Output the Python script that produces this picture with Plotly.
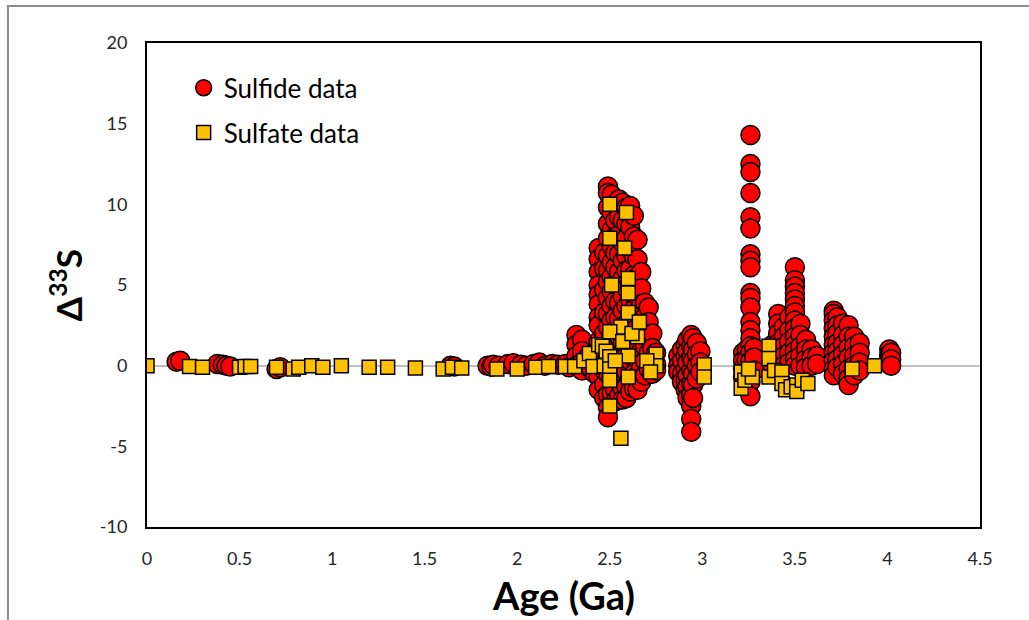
import plotly.graph_objects as go

# ---------------- data ----------------
sulfide_age = [
    0.16, 0.18, 0.38, 0.41, 0.43, 0.45, 0.70, 0.72,
    1.64, 1.66, 1.84, 1.86, 1.87, 1.90, 1.95, 1.98, 2.02, 2.05, 2.09, 2.12, 2.15, 2.19, 2.22, 2.26, 2.28,
    2.32, 2.32, 2.32, 2.32, 2.35, 2.35, 2.35, 2.35, 2.38, 2.38, 2.40, 2.40, 2.42, 2.42, 2.42,
    2.44, 2.44, 2.44, 2.44, 2.44, 2.44, 2.44, 2.44, 2.44, 2.44, 2.44, 2.44, 2.44,
    2.47, 2.47, 2.47, 2.47, 2.47, 2.47, 2.47, 2.47, 2.47,
    2.49, 2.49, 2.49, 2.49, 2.49, 2.49, 2.49, 2.49, 2.49, 2.49, 2.49, 2.49, 2.49, 2.49, 2.49, 2.49, 2.49,
    2.51, 2.51, 2.51, 2.51, 2.51, 2.51, 2.51, 2.51, 2.51, 2.51, 2.51, 2.51, 2.51, 2.51,
    2.53, 2.53, 2.53, 2.53, 2.53, 2.53, 2.53, 2.53, 2.53, 2.53, 2.53, 2.53, 2.53, 2.53,
    2.55, 2.55, 2.55, 2.55, 2.55, 2.55, 2.55, 2.55, 2.55, 2.55, 2.55, 2.55, 2.55,
    2.57, 2.57, 2.57, 2.57, 2.57, 2.57, 2.57, 2.57, 2.57, 2.57, 2.57, 2.57, 2.57,
    2.59, 2.59, 2.59, 2.59, 2.59, 2.59, 2.59, 2.59, 2.59, 2.59, 2.59, 2.59, 2.59,
    2.61, 2.61, 2.61, 2.61, 2.61, 2.61, 2.61, 2.61, 2.61, 2.61, 2.61, 2.61,
    2.63, 2.63, 2.63, 2.63, 2.63, 2.63, 2.63, 2.63, 2.63, 2.63, 2.63,
    2.65, 2.65, 2.65, 2.65, 2.65, 2.65, 2.65, 2.65, 2.65, 2.65,
    2.67, 2.67, 2.67, 2.67, 2.67, 2.67, 2.67, 2.67,
    2.69, 2.69, 2.69, 2.69, 2.69, 2.69,
    2.71, 2.71, 2.71, 2.71, 2.71,
    2.73, 2.73, 2.73, 2.73,
    2.75, 2.75, 2.75,
    2.87, 2.87, 2.87,
    2.89, 2.89, 2.89, 2.89,
    2.91, 2.91, 2.91, 2.91, 2.91,
    2.92, 2.92, 2.92, 2.92, 2.92, 2.92,
    2.94, 2.94, 2.94, 2.94, 2.94, 2.94, 2.94, 2.94, 2.94,
    2.95, 2.95, 2.95, 2.95, 2.95, 2.95,
    2.97, 2.97, 2.97, 2.97,
    2.99, 2.99, 2.99,
    3.22, 3.22, 3.22, 3.22,
    3.24, 3.24, 3.24, 3.24,
    3.26, 3.26, 3.26, 3.26, 3.26, 3.26, 3.26, 3.26, 3.26, 3.26, 3.26, 3.26, 3.26, 3.26, 3.26, 3.26, 3.26, 3.26, 3.26, 3.26, 3.26,
    3.28, 3.28, 3.28,
    3.38, 3.38, 3.38,
    3.41, 3.41, 3.41, 3.41, 3.41, 3.41,
    3.44, 3.44, 3.44, 3.44, 3.44,
    3.47, 3.47, 3.47, 3.47, 3.47,
    3.50, 3.50, 3.50, 3.50, 3.50, 3.50, 3.50, 3.50, 3.50, 3.50, 3.50, 3.50, 3.50, 3.50,
    3.53, 3.53, 3.53, 3.53, 3.53,
    3.56, 3.56, 3.56, 3.56,
    3.59, 3.59, 3.59,
    3.62, 3.62,
    3.71, 3.71, 3.71, 3.71, 3.71, 3.71, 3.71, 3.71, 3.71, 3.71,
    3.73, 3.73, 3.73, 3.73, 3.73, 3.73, 3.73,
    3.76, 3.76, 3.76, 3.76, 3.76, 3.76,
    3.79, 3.79, 3.79, 3.79, 3.79, 3.79, 3.79,
    3.82, 3.82, 3.82, 3.82, 3.82,
    3.85, 3.85, 3.85, 3.85,
    4.01, 4.01, 4.01, 4.01, 4.01,
    4.02, 4.02, 4.02,
]
sulfide_d33s = [
    0.25, 0.30, 0.10, 0.05, 0.00, -0.05, -0.20, -0.10,
    0.00, -0.05, 0.00, -0.05, 0.05, 0.00, 0.10, 0.15, 0.05, 0.00, 0.10, 0.20, 0.00, 0.10, 0.05, 0.10, -0.10,
    1.90, 1.30, 0.60, 0.00, 1.60, 0.90, 0.20, -0.30, 0.50, 0.00, 0.30, -0.20, 0.80, 0.00, -0.50,
    7.30, 6.60, 5.80, 5.00, 4.40, 3.80, 3.00, 2.50, 1.50, 0.80, 0.00, -0.70, -1.50,
    7.00, 6.00, 4.70, 3.30, 2.00, 1.00, -0.30, -1.20, -2.00,
    11.1, 10.7, 9.80, 8.80, 7.90, 6.80, 5.90, 5.20, 4.20, 3.20, 2.40, 1.30, 0.50, -0.50, -1.80, -2.60, -3.20,
    10.6, 9.50, 8.40, 7.40, 6.40, 5.50, 4.60, 3.70, 2.80, 1.90, 1.00, 0.20, -0.80, -1.70,
    10.0, 9.00, 8.00, 7.00, 6.10, 5.10, 4.00, 3.00, 2.00, 1.10, 0.30, -0.60, -1.50, -2.20,
    10.3, 9.20, 8.10, 6.90, 5.80, 4.90, 3.90, 2.90, 1.80, 0.90, -0.20, -1.00, -1.90,
    10.1, 9.00, 7.60, 6.50, 5.40, 4.30, 3.40, 2.40, 1.40, 0.40, -0.60, -1.40, -2.10,
    9.80, 8.80, 7.90, 6.80, 5.90, 4.80, 3.70, 2.60, 1.60, 0.60, -0.40, -1.30, -2.00,
    9.90, 8.60, 7.20, 6.00, 5.00, 4.10, 3.20, 2.20, 1.20, 0.30, -0.70, -1.60,
    9.30, 8.00, 6.80, 5.60, 4.40, 3.50, 2.50, 1.50, 0.50, -0.50, -1.40,
    7.80, 6.60, 5.50, 4.30, 3.30, 2.40, 1.40, 0.40, -0.60, -1.50,
    5.80, 4.80, 3.80, 2.80, 1.80, 0.90, -0.10, -1.00,
    3.90, 3.00, 2.10, 1.20, 0.30, -0.60,
    3.60, 2.70, 1.70, 0.80, -0.20,
    2.00, 1.10, 0.20, -0.50,
    0.80, 0.10, -0.30,
    0.60, 0.00, -0.40,
    1.00, 0.30, -0.50, -1.00,
    1.30, 0.60, -0.20, -0.90, -1.50,
    1.60, 0.90, 0.20, -0.60, -1.30, -2.00,
    1.90, 1.20, 0.50, -0.30, -1.10, -1.80, -2.50, -3.30, -4.10,
    1.70, 1.00, 0.30, -0.50, -1.20, -2.00,
    1.40, 0.70, 0.00, -0.80,
    0.90, 0.20, -0.40,
    0.80, 0.30, -0.20, -0.70,
    1.00, 0.40, -0.40, -1.20,
    14.3, 12.5, 12.0, 10.7, 9.20, 8.50, 6.90, 6.50, 6.10, 4.50, 4.20, 3.60, 2.70, 2.20, 1.70, 1.20, 0.80, 0.30, -0.30, -1.00, -1.90,
    1.10, 0.50, -0.30,
    1.30, 0.60, 0.00,
    3.20, 2.60, 2.00, 1.40, 0.80, 0.20,
    2.40, 1.80, 1.20, 0.60, 0.00,
    3.00, 2.20, 1.50, 0.80, 0.20,
    6.10, 5.30, 4.90, 4.50, 4.10, 3.70, 3.30, 2.80, 2.30, 1.80, 1.30, 0.90, 0.40, 0.00,
    2.60, 1.90, 1.20, 0.60, 0.00,
    1.60, 1.00, 0.40, -0.10,
    1.00, 0.50, 0.00,
    0.60, 0.10,
    3.40, 3.20, 2.80, 2.30, 1.80, 1.30, 0.80, 0.30, -0.20, -0.60,
    3.00, 2.50, 2.00, 1.40, 0.90, 0.40, -0.10,
    2.60, 1.90, 1.30, 0.70, 0.10, -0.50,
    2.50, 1.80, 1.10, 0.50, -0.20, -0.80, -1.20,
    1.80, 1.20, 0.60, 0.00, -0.60,
    1.40, 0.80, 0.20, -0.30,
    1.00, 0.70, 0.50, 0.30, 0.10,
    0.80, 0.40, 0.00,
]

sulfate_age = [
    0.00, 0.23, 0.30, 0.50, 0.53, 0.56, 0.70, 0.79, 0.82, 0.89, 0.95, 1.05, 1.20, 1.30, 1.45, 1.60,
    1.65, 1.70, 1.89, 2.00, 2.10, 2.17, 2.26, 2.31, 2.36, 2.39, 2.41, 2.44, 2.46, 2.47,
    2.50, 2.59, 2.50, 2.58, 2.60, 2.51, 2.60, 2.60, 2.56, 2.50, 2.65, 2.48, 2.50, 2.60,
    2.75, 2.75, 2.50, 2.60, 2.50, 2.50, 2.56, 2.53, 2.57, 2.62, 2.66, 2.70, 2.72,
    3.01, 3.01, 3.21, 3.21, 3.23, 3.27, 3.25, 3.36, 3.36, 3.36, 3.39, 3.43, 3.43, 3.45,
    3.48, 3.51, 3.51, 3.54, 3.57, 3.81, 3.93,
]
sulfate_d33s = [
    0.00, -0.05, -0.10, -0.10, -0.05, -0.05, -0.10, -0.20, -0.10, 0.00, -0.10, 0.00, -0.10, -0.10, -0.15, -0.20,
    -0.10, -0.15, -0.20, -0.20, -0.10, -0.05, -0.05, -0.05, 0.30, 0.75, -0.05, 1.30, 1.20, 0.00,
    10.0, 9.50, 7.90, 7.30, 5.40, 5.00, 4.50, 3.30, 2.40, 2.10, 1.80, 0.90, 0.55, 0.60,
    0.70, 0.00, -0.20, -0.70, -0.90, -2.50, -4.50, 0.30, 1.50, 2.00, 2.70, 0.30, -0.40,
    0.05, -0.70, -0.40, -1.40, -0.90, -0.70, -0.20, 1.20, 0.45, -0.70, -0.30, -0.40, -1.10, -1.50,
    -1.30, -1.20, -1.60, -0.90, -1.10, -0.20, 0.00,
]

x_ticks = [0, 0.5, 1, 1.5, 2, 2.5, 3, 3.5, 4, 4.5]
x_tick_labels = ["0", "0.5", "1", "1.5", "2", "2.5", "3", "3.5", "4", "4.5"]
y_ticks = [-10, -5, 0, 5, 10, 15, 20]
y_tick_labels = ["-10", "-5", "0", "5", "10", "15", "20"]

FONT = "Lato, 'Open Sans', sans-serif"

fig = go.Figure()
fig.add_trace(go.Scatter(
    x=sulfide_age, y=sulfide_d33s, mode="markers", name="Sulfide data",
    legendgroup="a",
    marker=dict(symbol="circle", size=19, color="#FF0000",
                line=dict(color="#000000", width=1.5)),
))
fig.add_trace(go.Scatter(
    x=sulfate_age, y=sulfate_d33s, mode="markers", name="Sulfate data",
    legendgroup="b",
    marker=dict(symbol="square", size=14, color="#FFC000",
                line=dict(color="#000000", width=1.5)),
))

fig.update_layout(
    width=1029, height=620,
    margin=dict(l=147, r=49, t=43, b=93),
    paper_bgcolor="white", plot_bgcolor="white",
    font=dict(family=FONT, color="#262626"),
    showlegend=True,
    legend=dict(x=0.044, y=0.956, xanchor="left", yanchor="top",
                bgcolor="rgba(0,0,0,0)", font=dict(size=26, family=FONT, color="#000000"),
                traceorder="grouped", tracegroupgap=8, itemwidth=30),
    xaxis=dict(range=[0, 4.5], tickvals=x_ticks, ticktext=x_tick_labels,
               showgrid=False, zeroline=False, showline=True, mirror=True,
               linecolor="#000000", linewidth=2, ticks="", ticklabelstandoff=14,
               tickfont=dict(size=18, family=FONT, color="#262626")),
    yaxis=dict(range=[-10, 20], tickvals=y_ticks, ticktext=y_tick_labels,
               showgrid=False, zeroline=True, zerolinecolor="#BFBFBF", zerolinewidth=1.5,
               showline=True, mirror=True, linecolor="#000000", linewidth=2,
               ticks="", ticklabelstandoff=14,
               tickfont=dict(size=18, family=FONT, color="#262626")),
    annotations=[
        dict(text="<b>Age (Ga)</b>", xref="paper", yref="paper", x=0.5, y=-0.14,
             xanchor="center", yanchor="middle", showarrow=False,
             font=dict(size=38, family=FONT, color="#000000")),
        dict(text="<b>Δ<sup>33</sup>S</b>", xref="paper", yref="paper", x=-0.097, y=0.5,
             xanchor="center", yanchor="middle", showarrow=False, textangle=-90,
             font=dict(size=35, family=FONT, color="#000000")),
    ],
    shapes=[
        dict(type="rect", xref="paper", yref="paper", x0=-0.1669, x1=1.2, y0=-0.3, y1=1.0764,
             line=dict(color="#8C8C8C", width=2), fillcolor="rgba(0,0,0,0)", layer="below"),
    ],
)

fig.write_html("out.html")
